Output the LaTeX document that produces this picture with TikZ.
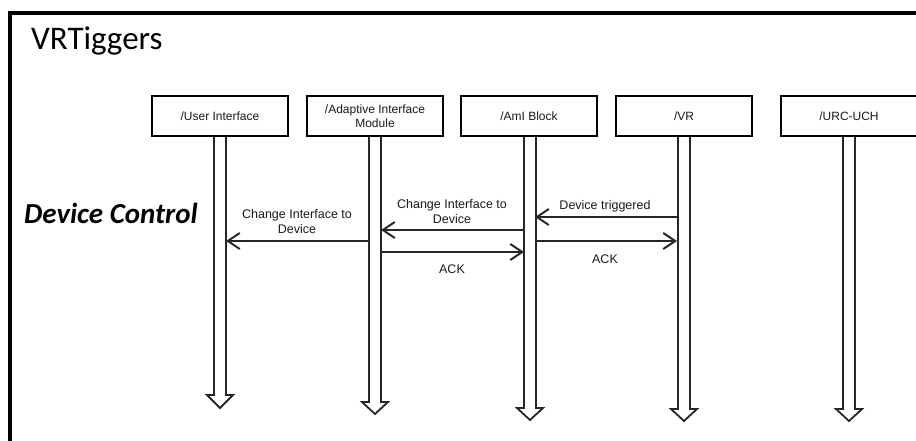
\documentclass[tikz,border=0pt]{standalone}
\usepackage{fontspec}
\setmainfont{Liberation Sans}
\newfontfamily\calfont{Carlito}
\usetikzlibrary{arrows.meta}

\tikzset{
  actor/.style={draw=black, line width=1.6pt, fill=white, minimum width=136pt,
    minimum height=40pt, inner sep=0pt, align=center, font=\fontsize{12}{14}\selectfont,
    text=black!90},
  life/.style={draw=black!85, line width=1.8pt, fill=white, line join=miter},
  msg/.style={draw=black!85, line width=2pt,
    -{Straight Barb[length=12pt, width=16pt, line width=2pt]}},
  msglabel/.style={font=\fontsize{12.5}{15}\selectfont, text=black!90, inner sep=0pt,
    align=center, text depth=0pt}
}

\begin{document}
\begin{tikzpicture}[x=1pt, y=-1pt]
  \useasboundingbox (0,0) rectangle (916,441);
  \clip (0,0) rectangle (916,441);

  % outer frame, running past the right and bottom edges
  \draw[line width=4pt] (9.5,13) rectangle (940,470);

  % title and section label
  \node[anchor=base west, inner sep=0pt, font=\calfont\fontsize{33}{36}\selectfont] (title) at (31,50) {VRTiggers};
  \node[anchor=base west, inner sep=0pt, font=\calfont\bfseries\itshape\fontsize{29}{32}\selectfont] (section) at (24,223) {Device Control};

  % lifelines: hollow double-line arrows hanging from each participant
  \foreach \cx/\ht/\tip in {220/395/408, 375/402/414, 530/408/420, 684/409/421, 849/409/421}{
    \draw[life] (\cx-6,130) -- (\cx-6,\ht) -- (\cx-13,\ht) -- (\cx,\tip) -- (\cx+13,\ht) -- (\cx+6,\ht) -- (\cx+6,130);
  }

  % participants
  \node[actor] (ui)  at (220,116) {/User Interface};
  \node[actor] (aim) at (375,116) {/Adaptive Interface\\Module};
  \node[actor] (amb) at (529,116) {/AmI Block};
  \node[actor] (vr)  at (684,116) {/VR};
  \node[actor] (urc) at (849,116) {/URC-UCH};

  % message levels
  \coordinate (m1) at (0,241);
  \coordinate (m2) at (0,230);
  \coordinate (m3) at (0,252);
  \coordinate (m4) at (0,217);
  \coordinate (m5) at (0,241);

  % messages
  \draw[msg] ([xshift=-6pt]aim.south |- m1) -- ([xshift=6pt]ui.south |- m1);
  \draw[msg] ([xshift=-5pt]amb.south |- m2) -- ([xshift=6pt]aim.south |- m2);
  \draw[msg] ([xshift=6pt]aim.south |- m3) -- ([xshift=-5pt]amb.south |- m3);
  \draw[msg] ([xshift=-7pt]vr.south |- m4) -- ([xshift=6pt]amb.south |- m4);
  \draw[msg] ([xshift=6pt]amb.south |- m5) -- ([xshift=-7pt]vr.south |- m5);

  % message labels
  \node[msglabel, anchor=south] (l1) at (297,234) {Change Interface to\\Device};
  \node[msglabel, anchor=south] (l2) at (452,224) {Change Interface to\\Device};
  \node[msglabel, anchor=base]  (l3) at (452,273) {ACK};
  \node[msglabel, anchor=base]  (l4) at (605,209) {Device triggered};
  \node[msglabel, anchor=base]  (l5) at (605,263) {ACK};
\end{tikzpicture}
\end{document}
